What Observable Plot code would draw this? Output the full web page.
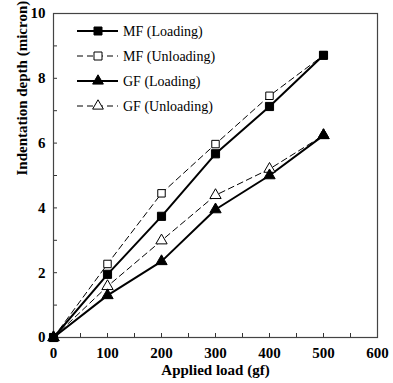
<!DOCTYPE html>
<html><head><meta charset="utf-8">
<script src="https://cdn.jsdelivr.net/npm/d3@7"></script>
<script src="https://cdn.jsdelivr.net/npm/@observablehq/plot@0.6"></script>
<style>
body{margin:0;background:#fff;}
#wrap{position:relative;width:393px;height:383px;}
#legend{position:absolute;left:0;top:0;}
</style>
</head><body><div id="wrap"></div>
<script>
const loads = [0, 100, 200, 300, 400, 500];
const mfLoading = [0, 1.95, 3.74, 5.67, 7.13, 8.71];
const mfUnloading = [0, 2.27, 4.45, 5.97, 7.46, 8.71];
const gfLoading = [0, 1.30, 2.35, 3.95, 5.0, 6.24];
const gfUnloading = [0, 1.58, 2.99, 4.39, 5.2, 6.24];
const seriesNames = ["MF (Loading)", "MF (Unloading)", "GF (Loading)", "GF (Unloading)"];
const xTicks = [0, 100, 200, 300, 400, 500, 600];
const yTicks = [0, 2, 4, 6, 8, 10];
const FONT = "'Liberation Serif', 'Times New Roman', 'DejaVu Serif', serif";

const styles = [
  {values: mfLoading, dash: null, width: 2, symbol: "square", fill: "black", r: 4.6},
  {values: mfUnloading, dash: "6,4", width: 1, symbol: "square", fill: "white", r: 4.2},
  {values: gfLoading, dash: null, width: 2, symbol: "triangle", fill: "black", r: 4.2},
  {values: gfUnloading, dash: "6,4", width: 1, symbol: "triangle", fill: "white", r: 4.2}
];
const rows = [];
styles.forEach((s, i) => loads.forEach((x, j) => rows.push({series: seriesNames[i], x, y: s.values[j]})));

const marks = [];
styles.forEach((s, i) => {
  const d = rows.filter(r => r.series === seriesNames[i]);
  marks.push(Plot.line(d, {x: "x", y: "y", stroke: "black", strokeWidth: s.width, strokeDasharray: s.dash}));
});
[3, 2, 1, 0].forEach(i => {
  const s = styles[i];
  const d = rows.filter(r => r.series === seriesNames[i]);
  marks.push(Plot.dot(d, {x: "x", y: "y", symbol: () => s.symbol, r: s.r, fill: s.fill, stroke: "black", strokeWidth: 1}));
});

const chart = Plot.plot({
  width: 393, height: 383,
  marginLeft: 53, marginRight: 16, marginTop: 13, marginBottom: 46,
  style: {fontFamily: FONT, background: "white"},
  x: {domain: [0, 600]},
  y: {domain: [0, 10]},
  symbol: {type: "identity"},
  marks: [
    Plot.axisX({ticks: xTicks, tickSize: 0, tickPadding: 10, fontSize: 15, fontWeight: "bold", fill: "black", label: null}),
    Plot.axisX({ticks: d3.range(0, 601, 50), tickSize: -4, text: null, stroke: "#333", label: null}),
    Plot.axisY({ticks: yTicks, tickSize: 0, tickPadding: 8, fontSize: 15, fontWeight: "bold", fill: "black", label: null}),
    Plot.axisY({ticks: d3.range(0, 10.01, 1), tickSize: -4, text: null, stroke: "#333", label: null}),
    Plot.frame({stroke: "#444", strokeWidth: 1.2}),
    ...marks,
    Plot.text(["Applied load (gf)"], {frameAnchor: "bottom", dy: 37, fontSize: 15, fontWeight: "bold", fill: "black"}),
    Plot.text(["Indentation depth (micron)"], {frameAnchor: "left", dx: -31, rotate: -90, fontSize: 15, fontWeight: "bold", fill: "black"})
  ]
});
document.getElementById("wrap").appendChild(chart);

// legend overlay
const lg = d3.select("#wrap").append("svg").attr("id", "legend").attr("width", 393).attr("height", 383);
const sym = {square: d3.symbolSquare, triangle: d3.symbolTriangle};
styles.forEach((s, i) => {
  const y = 31 + i * 25;
  const g = lg.append("g");
  g.append("line").attr("x1", 77).attr("x2", 118).attr("y1", y).attr("y2", y)
    .attr("stroke", "black").attr("stroke-width", s.width).attr("stroke-dasharray", s.dash);
  const area = s.symbol === "square" ? 64 : 50;
  g.append("path").attr("d", d3.symbol(sym[s.symbol], area)()).attr("transform", `translate(98,${y})`)
    .attr("fill", s.fill).attr("stroke", "black");
  g.append("text").attr("x", 123).attr("y", y).attr("dy", "0.35em")
    .style("font-family", FONT).attr("font-size", 14).text(seriesNames[i]);
});
</script></body></html>
